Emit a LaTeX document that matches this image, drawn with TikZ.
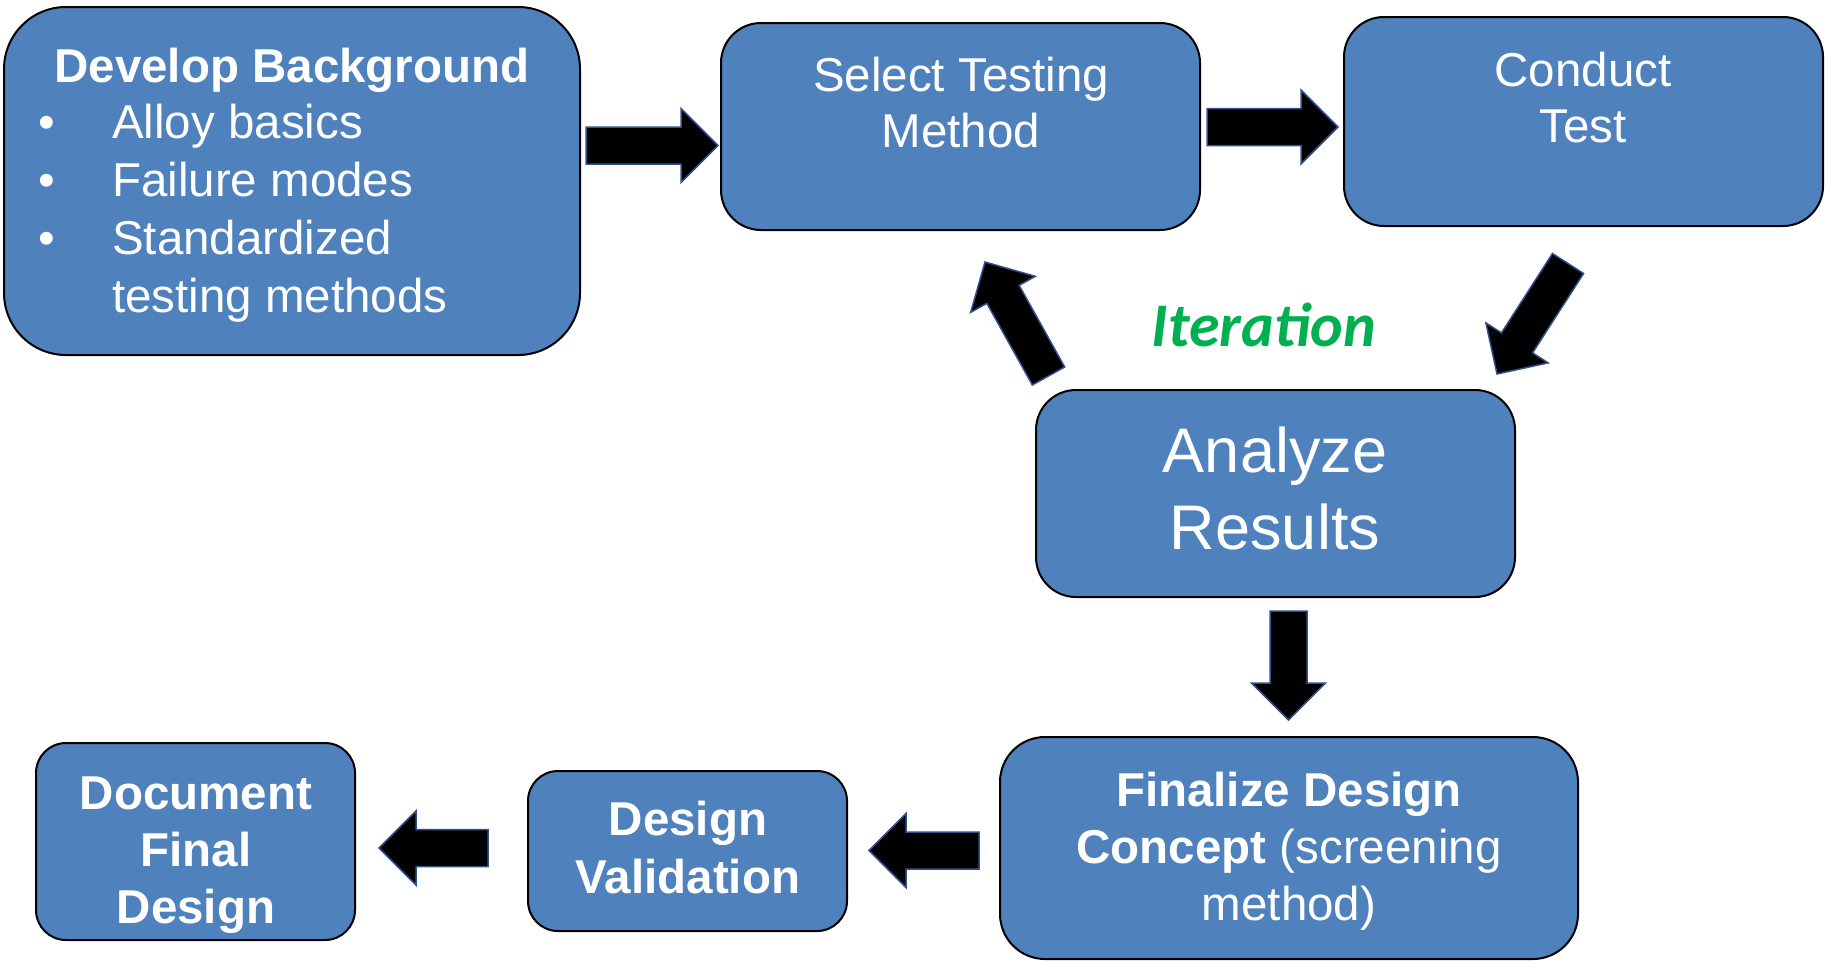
\documentclass[tikz,border=0pt]{standalone}
\usepackage{fontspec}
\setmainfont{Liberation Sans}
\newfontfamily\calib{Carlito}
\usetikzlibrary{calc}
\definecolor{boxblue}{HTML}{4F81BD}
\definecolor{arrowline}{HTML}{2F528F}
\definecolor{itergreen}{HTML}{00B050}
\tikzset{
  box/.style={draw=black, line width=2pt, fill=boxblue, inner sep=0pt},
  boxtext/.style={text=white, inner sep=0pt, align=center, anchor=base,
    font=\fontsize{47.5pt}{57pt}\selectfont},
  arrowst/.style={fill=black, draw=arrowline, line width=1.5pt, line join=miter},
}
\newcommand\blockarrow[2]{%
  \path ($(#2)!37pt!(#1)$) coordinate (bb);
  \draw[arrowst] ($(#1)!18.5pt!90:(#2)$) -- ($(bb)!18.5pt!90:(#2)$) -- ($(bb)!37pt!90:(#2)$)
    -- (#2) -- ($(bb)!37pt!-90:(#2)$) -- ($(bb)!18.5pt!-90:(#2)$) -- ($(#1)!18.5pt!-90:(#2)$) -- cycle;
}
\begin{document}
\begin{tikzpicture}[x=1pt,y=-1pt]
\useasboundingbox (0,0) rectangle (1833,962);
% boxes
\node[box, minimum width=576pt, minimum height=348pt, rounded corners=62pt] (dev) at (292,181) {};
\node[box, minimum width=479pt, minimum height=207pt, rounded corners=40pt] (sel) at (960.5,126.5) {};
\node[box, minimum width=479pt, minimum height=209pt, rounded corners=40pt] (con) at (1583.5,121.5) {};
\node[box, minimum width=479pt, minimum height=207pt, rounded corners=40pt] (ana) at (1275.5,493.5) {};
\node[box, minimum width=578pt, minimum height=222pt, rounded corners=45pt] (fin) at (1289,848) {};
\node[box, minimum width=319pt, minimum height=160pt, rounded corners=30pt] (val) at (687.5,851) {};
\node[box, minimum width=319pt, minimum height=197pt, rounded corners=30pt] (doc) at (195.5,841.5) {};
% texts (base anchor = baseline of the last line)
\node[boxtext, font=\fontsize{47.5pt}{57pt}\selectfont\bfseries] (devt) at (292,82) {Develop Background};
\node[boxtext, anchor=base west, align=left, font=\fontsize{47.5pt}{58pt}\selectfont] (devl) at (38,312) {\makebox[74pt][l]{•}Alloy basics\\
  \makebox[74pt][l]{•}Failure modes\\
  \makebox[74pt][l]{•}Standardized\\
  \hspace*{74pt}testing methods};
\node[boxtext, font=\fontsize{47.5pt}{56pt}\selectfont] (selt) at (961,147) {Select Testing\\Method};
\node[boxtext, font=\fontsize{47.5pt}{56pt}\selectfont] (cont) at (1583,142) {Conduct\\Test};
\node[boxtext, font=\fontsize{63pt}{77pt}\selectfont] (anat) at (1275,549) {Analyze\\Results};
\node[boxtext] (fint) at (1289,920) {\textbf{Finalize Design}\\\textbf{Concept} (screening\\method)};
\node[boxtext, font=\fontsize{47.5pt}{58pt}\selectfont\bfseries] (valt) at (688,893) {Design\\Validation};
\node[boxtext, font=\fontsize{47.5pt}{57pt}\selectfont\bfseries] (doct) at (196,923) {Document\\Final\\Design};
\node[anchor=base, inner sep=0pt, text=itergreen, font=\calib\fontsize{62pt}{70pt}\selectfont\bfseries\itshape] (iter) at (1264,346) {Iteration};
% arrow end points
\coordinate (a1s) at (586,145.5);  \coordinate (a1e) at (718,145.5);
\coordinate (a2s) at (1207,127);   \coordinate (a2e) at (1338,127);
\coordinate (a3s) at (1568,263.5); \coordinate (a3e) at (1497,374);
\coordinate (a4s) at (1048.5,376); \coordinate (a4e) at (985,262);
\coordinate (a5s) at (1288.5,611); \coordinate (a5e) at (1288.5,720);
\coordinate (a6s) at (979,850.5);  \coordinate (a6e) at (869,850.5);
\coordinate (a7s) at (488,848);    \coordinate (a7e) at (379,848);
\blockarrow{a1s}{a1e}
\blockarrow{a2s}{a2e}
\blockarrow{a3s}{a3e}
\blockarrow{a4s}{a4e}
\blockarrow{a5s}{a5e}
\blockarrow{a6s}{a6e}
\blockarrow{a7s}{a7e}
\end{tikzpicture}
\end{document}
